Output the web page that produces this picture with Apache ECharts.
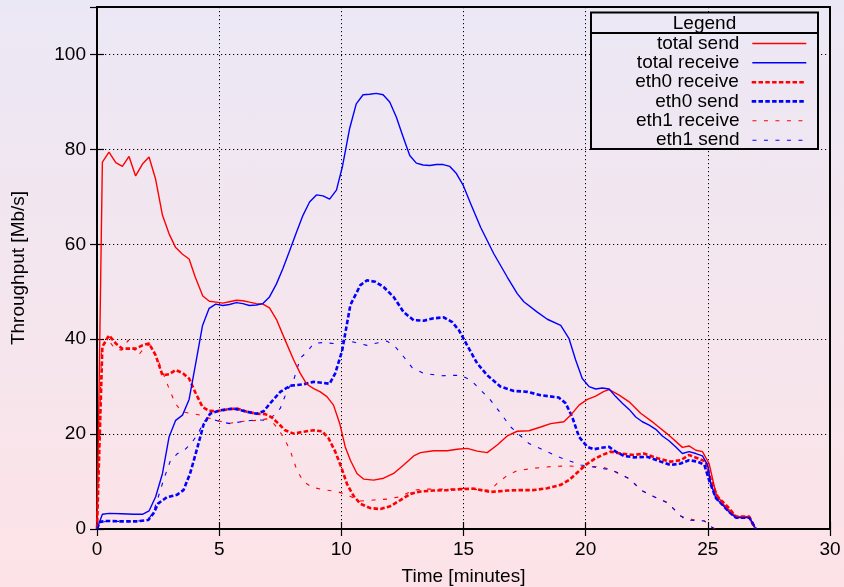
<!DOCTYPE html>
<html>
<head>
<meta charset="utf-8">
<script src="https://cdn.jsdelivr.net/npm/echarts@6/dist/echarts.min.js"></script>
<style>
html,body{margin:0;padding:0;}
body{background:linear-gradient(to bottom,#ebe8f5 0%,#fde3e7 100%);width:844px;height:587px;}
#c{width:844px;height:587px;}
</style>
</head>
<body>
<div id="c"></div>
<script>
// ---- data: [minutes, Mb/s] ----
const totalSend = [[0,0],[0.22,77.3],[0.49,79.4],[0.77,77.2],[1.04,76.4],[1.31,78.5],[1.58,74.4],[1.86,76.9],[2.13,78.4],[2.4,73.7],[2.68,66.1],[2.95,62.2],[3.22,59.3],[3.5,57.9],[3.77,56.9],[4.02,53.1],[4.33,49.1],[4.6,48.0],[4.88,47.8],[5.15,47.6],[5.42,47.9],[5.7,48.2],[5.97,48.1],[6.24,47.8],[6.52,47.5],[6.79,47.4],[7.06,46.6],[7.36,44.0],[7.7,39.8],[8.05,35.6],[8.32,32.8],[8.59,30.5],[8.87,29.6],[9.14,28.9],[9.41,27.9],[9.68,26.1],[9.93,22.3],[10.16,17.3],[10.37,14.5],[10.64,11.7],[10.92,10.5],[11.32,10.3],[11.73,10.7],[12.14,11.7],[12.55,13.5],[12.96,15.4],[13.24,16.1],[13.78,16.5],[14.33,16.5],[14.74,16.8],[15.15,17.0],[15.56,16.4],[15.97,16.1],[16.38,17.7],[16.79,19.6],[17.2,20.6],[17.68,20.7],[18.16,21.5],[18.57,22.2],[19.11,22.6],[19.39,24.0],[19.73,26.1],[20.07,27.3],[20.41,28.0],[20.75,29.0],[20.96,29.4],[21.37,28.2],[21.78,26.8],[22.25,24.4],[22.8,22.3],[23.35,20.0],[23.96,17.2],[24.23,17.5],[24.51,16.6],[24.78,16.3],[25.05,13.8],[25.33,7.5],[25.6,5.4],[26.15,2.6],[26.7,2.6],[26.9,0.3]];
const totalReceive = [[0,0],[0.22,3.1],[0.5,3.3],[1.0,3.2],[1.5,3.1],[1.86,3.1],[2.13,3.8],[2.4,6.8],[2.68,11.7],[2.95,19.4],[3.22,22.9],[3.5,24.0],[3.77,27.3],[4.04,34.9],[4.32,42.9],[4.59,46.5],[4.86,47.4],[5.15,47.1],[5.42,47.3],[5.7,47.7],[5.97,47.5],[6.24,47.1],[6.52,47.2],[6.79,47.5],[7.06,48.9],[7.34,51.6],[7.61,54.9],[7.88,58.6],[8.16,62.5],[8.43,66.1],[8.7,68.9],[8.98,70.4],[9.25,70.2],[9.52,69.5],[9.8,71.4],[10.05,76.5],[10.34,84.4],[10.61,89.6],[10.89,91.5],[11.16,91.6],[11.43,91.8],[11.71,91.5],[11.98,90.0],[12.25,86.8],[12.53,82.6],[12.8,78.7],[13.07,77.1],[13.35,76.7],[13.62,76.6],[13.89,76.8],[14.17,76.8],[14.44,76.4],[14.71,74.9],[14.99,72.4],[15.29,68.6],[15.7,63.6],[16.24,58.0],[16.79,53.1],[17.2,49.6],[17.47,47.9],[18.02,45.7],[18.43,44.2],[18.98,42.9],[19.32,40.1],[19.59,35.6],[19.86,31.7],[20.14,30.0],[20.41,29.5],[20.68,29.7],[20.96,29.5],[21.23,27.9],[21.5,26.5],[21.78,25.2],[22.05,23.6],[22.32,22.6],[22.6,21.9],[22.87,21.0],[23.14,19.6],[23.41,18.6],[23.69,17.3],[23.96,15.9],[24.23,16.3],[24.51,15.9],[24.78,15.4],[24.99,13.5],[25.12,9.6],[25.33,6.5],[25.6,5.1],[25.87,3.6],[26.15,2.4],[26.7,2.4],[26.97,0]];
const eth0Receive = [[0,0],[0.22,38.4],[0.49,40.8],[0.77,39.1],[1.04,38.0],[1.31,38.0],[1.58,38.0],[1.86,38.7],[2.13,39.1],[2.4,36.6],[2.68,32.4],[2.95,32.6],[3.22,33.5],[3.5,32.9],[3.77,31.7],[4.04,28.6],[4.32,25.7],[4.59,24.9],[4.9,24.8],[5.32,25.2],[5.73,25.4],[6.14,24.7],[6.54,24.3],[6.89,24.2],[7.16,23.5],[7.43,22.2],[7.7,20.8],[8.05,20.1],[8.45,20.5],[8.87,20.8],[9.21,20.6],[9.48,19.1],[9.75,16.3],[10.0,13.0],[10.23,9.5],[10.5,7.0],[10.78,5.3],[11.19,4.4],[11.6,4.2],[12.0,4.8],[12.42,6.1],[12.83,7.4],[13.24,7.9],[13.78,8.1],[14.33,8.2],[14.88,8.4],[15.42,8.5],[16.1,7.8],[16.79,8.1],[17.34,8.2],[17.88,8.2],[18.43,8.6],[18.98,9.3],[19.32,10.3],[19.66,11.9],[20.0,13.5],[20.34,14.7],[20.68,15.6],[21.02,16.3],[21.43,15.9],[21.98,15.6],[22.39,15.9],[22.94,14.9],[23.48,14.2],[23.89,14.5],[24.23,15.6],[24.58,14.9],[24.92,14.2],[25.12,10.3],[25.4,6.8],[25.81,4.7],[26.15,2.6],[26.7,2.6],[26.9,0.3]];
const eth0Send = [[0,0],[0.12,1.5],[0.4,1.7],[1.0,1.6],[1.6,1.6],[2.1,1.9],[2.31,3.3],[2.51,5.4],[2.86,6.7],[3.27,7.2],[3.54,8.2],[3.81,11.7],[4.08,16.6],[4.36,22.0],[4.63,24.3],[5.04,25.0],[5.59,25.4],[6.14,24.7],[6.54,24.3],[6.82,24.8],[7.09,26.5],[7.5,28.9],[7.91,30.2],[8.45,30.5],[8.87,31.0],[9.27,30.8],[9.52,30.6],[9.75,32.8],[10.03,37.5],[10.37,47.2],[10.78,51.4],[11.05,52.4],[11.39,52.1],[11.73,51.0],[12.14,48.9],[12.55,45.7],[12.96,44.0],[13.37,43.9],[13.78,44.4],[14.19,44.6],[14.54,43.6],[14.81,41.9],[15.15,38.7],[15.56,34.9],[15.97,32.4],[16.52,30.0],[17.06,29.1],[17.61,28.9],[18.16,28.2],[18.9,27.7],[19.18,26.5],[19.45,23.6],[19.73,19.4],[20.07,17.3],[20.34,16.8],[20.61,17.1],[20.96,17.3],[21.23,16.3],[21.57,15.4],[21.98,15.1],[22.53,15.2],[23.07,14.2],[23.48,13.5],[23.89,13.8],[24.23,14.5],[24.58,14.2],[24.86,13.5],[25.05,10.3],[25.33,6.5],[25.6,5.1],[25.87,3.6],[26.15,2.4],[26.7,2.4],[26.97,0]];
const eth1Receive = [[0,0],[0.19,38.4],[0.46,39.8],[0.74,38.0],[1.01,37.7],[1.28,39.8],[1.69,36.6],[1.97,38.4],[2.17,38.9],[2.45,36.3],[2.65,33.5],[2.92,30.0],[3.2,26.5],[3.47,24.7],[3.81,24.4],[4.22,24.0],[4.63,23.3],[5.04,22.7],[5.45,22.3],[6.0,22.7],[6.54,22.9],[6.95,23.2],[7.2,22.4],[7.43,21.0],[7.7,18.7],[7.91,16.5],[8.18,12.4],[8.45,10.0],[8.8,8.8],[9.27,8.3],[9.82,7.9],[10.23,7.2],[10.78,5.9],[11.32,6.1],[11.87,6.3],[12.42,6.8],[12.96,8.2],[13.51,8.4],[14.06,8.4],[14.61,8.4],[15.15,8.6],[15.7,8.2],[16.1,8.2],[16.38,9.6],[16.79,11.3],[17.2,12.3],[17.88,12.8],[18.7,13.2],[19.3,13.3],[19.8,13.1],[20.61,13.2],[21.09,12.4],[21.43,11.4],[21.84,10.5],[22.25,8.2],[22.8,6.8],[23.35,5.6],[23.89,2.7],[24.44,1.9],[24.86,1.7],[25.12,0.5],[25.3,0]];
const eth1Send = [[0,0],[0.12,1.5],[0.5,1.6],[1.0,1.6],[1.6,1.6],[2.1,2.0],[2.31,3.6],[2.51,6.8],[2.72,10.3],[2.99,14.2],[3.27,15.8],[3.61,16.8],[3.88,18.2],[4.15,20.2],[4.36,22.6],[4.63,23.3],[5.04,22.6],[5.45,22.2],[6.0,22.7],[6.54,23.0],[6.95,22.9],[7.23,23.9],[7.5,25.4],[7.77,29.0],[8.05,31.4],[8.32,36.0],[8.59,37.3],[8.87,39.1],[9.27,39.3],[9.68,39.1],[10.1,39.6],[10.5,39.4],[11.05,38.7],[11.46,39.2],[11.87,39.6],[12.21,38.4],[12.55,36.3],[12.9,34.0],[13.37,32.8],[14.06,32.3],[14.88,32.4],[15.29,31.4],[15.7,29.3],[16.1,27.2],[16.52,24.4],[16.93,21.5],[17.34,19.6],[17.68,18.0],[18.16,16.9],[18.98,15.0],[19.8,13.5],[20.61,12.8],[21.02,12.5],[21.43,11.6],[21.84,10.4],[22.25,8.2],[22.8,6.8],[23.35,5.5],[23.89,2.8],[24.1,1.9],[24.86,1.7],[25.12,0.5],[25.3,0]];

const seriesNames = ['total send','total receive','eth0 receive','eth0 send','eth1 receive','eth1 send'];
const seriesData = [totalSend,totalReceive,eth0Receive,eth0Send,eth1Receive,eth1Send];
const xTitle = 'Time [minutes]';
const yTitle = 'Throughput [Mb/s]';
const legendTitle = 'Legend';

// styles
const RED = '#ff0000', BLUE = '#0000ff';
const styles = [
  {color: RED,  width: 1.4, type: 'solid'},
  {color: BLUE, width: 1.4, type: 'solid'},
  {color: RED,  width: 2.6, type: [4.5, 2.3]},
  {color: BLUE, width: 2.6, type: [4.5, 2.3]},
  {color: RED,  width: 1.1, type: [4, 7.5]},
  {color: BLUE, width: 1.1, type: [4, 7.5]}
];
const FONT = '"Liberation Sans", Arial, Helvetica, sans-serif';
const bgGrad = {type:'linear', x:0, y:0, x2:0, y2:587, global:true,
  colorStops:[{offset:0,color:'#ebe8f5'},{offset:1,color:'#fde3e7'}]};

const chart = echarts.init(document.getElementById('c'), null, {renderer:'canvas'});

const rowCenters = [43.5, 62.8, 82.2, 101.4, 120.8, 140.2];
const legends = seriesNames.map((n,i)=>({
  data:[n], orient:'vertical', align:'right', right:37, top: rowCenters[i]-9.5,
  padding:0, itemWidth:54, itemHeight:19, selectedMode:false, z:20,
  lineStyle:{color:styles[i].color, width:styles[i].width, type:styles[i].type},
  itemStyle:{opacity:0},
  textStyle:{fontFamily:FONT, fontSize:19, color:'#000', lineHeight:19, padding:[0,8,0,0]}
}));

const axisTick = {show:true, inside:true, length:7, lineStyle:{color:'#000', width:1.2}};

chart.setOption({
  animation:false,
  backgroundColor:'transparent',
  textStyle:{fontFamily:FONT},
  grid:{left:97, right:14, top:7, bottom:58, outerBoundsMode:'none', containLabel:false,
        show:true, borderColor:'#000', borderWidth:2, backgroundColor:'transparent', z:3},
  legend: legends,
  graphic:[
    {type:'rect', z:15, shape:{x:591, y:12.5, width:227, height:136.5}, style:{fill:bgGrad, stroke:'#000', lineWidth:2}},
    {type:'line', z:16, shape:{x1:591, y1:33, x2:818, y2:33}, style:{stroke:'#000', lineWidth:2}},
    {type:'text', z:16, x:704.5, y:23.5, style:{text:legendTitle, fontFamily:FONT, fontSize:19, fill:'#000', align:'center', verticalAlign:'middle'}}
  ],
  xAxis:[
    {type:'value', min:0, max:30, interval:5, position:'bottom',
     name:xTitle, nameLocation:'middle', nameGap:38, nameTextStyle:{fontFamily:FONT, fontSize:19, color:'#000'},
     axisLine:{show:false}, axisTick:axisTick,
     axisLabel:{fontFamily:FONT, fontSize:19, color:'#000', margin:11},
     splitLine:{show:true, lineStyle:{color:'#000', width:1, type:[1.2,2.8]}}},
    {type:'value', min:0, max:30, interval:5, position:'top',
     axisLine:{show:false}, axisTick:axisTick, axisLabel:{show:false}, splitLine:{show:false}}
  ],
  yAxis:[
    {type:'value', min:0, max:110, interval:20, position:'left',
     name:yTitle, nameLocation:'middle', nameGap:69, nameRotate:90, nameTextStyle:{fontFamily:FONT, fontSize:19, color:'#000'},
     axisLine:{show:false}, axisTick:axisTick,
     axisLabel:{fontFamily:FONT, fontSize:19, color:'#000', margin:11, showMaxLabel:false},
     splitLine:{show:true, lineStyle:{color:'#000', width:1, type:[1.2,2.8]}}},
    {type:'value', min:0, max:110, interval:20, position:'right',
     axisLine:{show:false}, axisTick:axisTick, axisLabel:{show:false}, splitLine:{show:false}}
  ],
  series: seriesNames.map((n,i)=>({
    name:n, type:'line', data:seriesData[i], xAxisIndex:0, yAxisIndex:0,
    showSymbol:false, symbol:'none', smooth:false, z:5-Math.floor(i/2),
    lineStyle:{color:styles[i].color, width:styles[i].width, type:styles[i].type},
    itemStyle:{color:styles[i].color}
  }))
});
</script>
</body>
</html>
